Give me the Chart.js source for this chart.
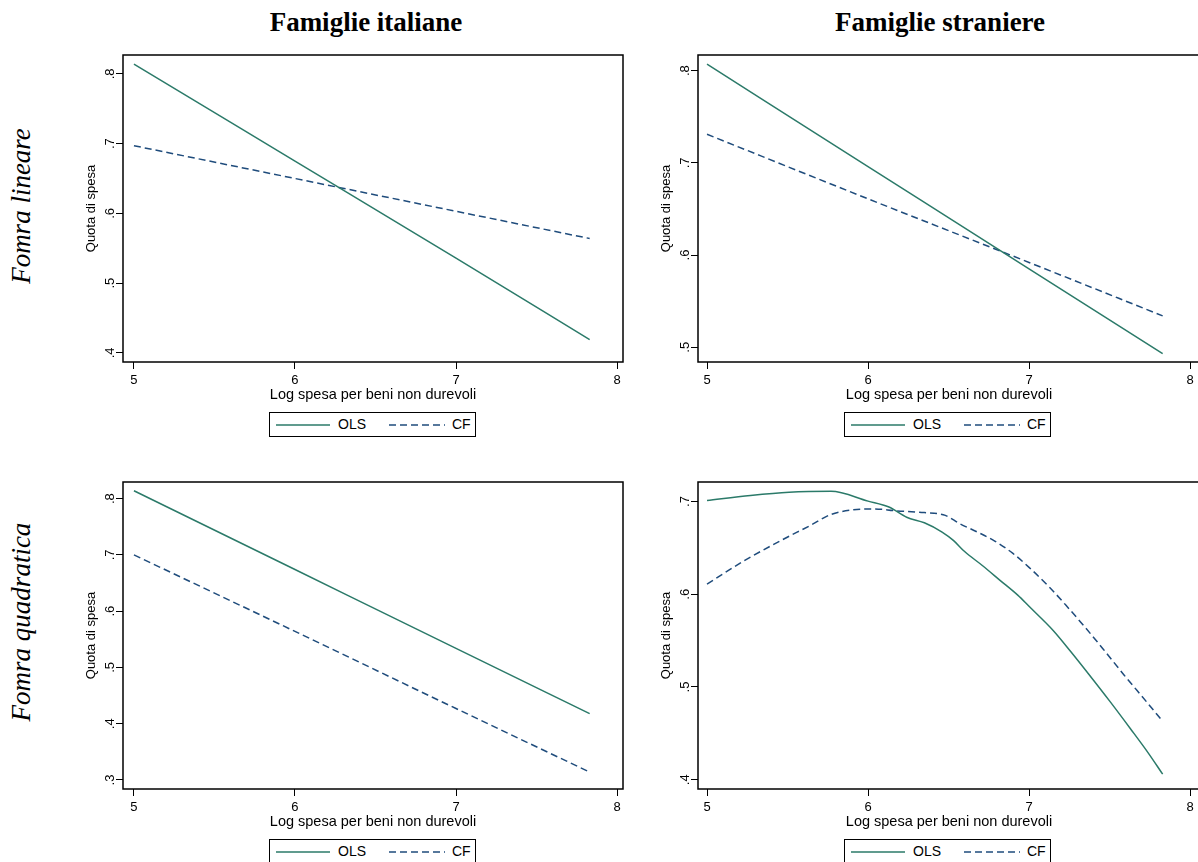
<!DOCTYPE html>
<html>
<head>
<meta charset="utf-8">
<script src="https://cdn.jsdelivr.net/npm/chart.js@4.4.1/dist/chart.umd.min.js"></script>
<style>
  html, body { margin: 0; padding: 0; background: #fff; }
  body { width: 1198px; height: 862px; position: relative; overflow: hidden; }
  canvas { position: absolute; }
  .coltitle {
    position: absolute; top: 7px; line-height: 27px; white-space: nowrap;
    font: bold 27px "Liberation Serif", "Times New Roman", serif;
    transform: translateX(-50%);
  }
  .rowtitle {
    position: absolute; line-height: 27px; white-space: nowrap;
    font: italic 27px "Liberation Serif", "Times New Roman", serif;
    transform: translate(-50%, -50%) rotate(-90deg);
  }
  .legend {
    position: absolute; width: 205px; height: 23px; border: 1px solid #000;
    font: 14px "Liberation Sans", Arial, sans-serif; background: #fff;
  }
  .legend svg, .legend span { position: absolute; }
  .legend span { top: 3px; line-height: 17px; }
</style>
</head>
<body>
<div class="coltitle" style="left:366px">Famiglie italiane</div>
<div class="coltitle" style="left:940px">Famiglie straniere</div>
<div class="rowtitle" style="left:21px; top:206px">Fomra lineare</div>
<div class="rowtitle" style="left:21px; top:622px">Fomra quadratica</div>

<canvas id="linIt" width="563" height="365" style="left:70px; top:45px"></canvas>
<canvas id="linSt" width="565" height="365" style="left:645px; top:45px"></canvas>
<canvas id="quadIt" width="563" height="365" style="left:70px; top:472px"></canvas>
<canvas id="quadSt" width="565" height="365" style="left:645px; top:472px"></canvas>

<script>
const seriesNames = ["OLS", "CF"];
const xTitle = "Log spesa per beni non durevoli";
const yTitle = "Quota di spesa";

const xTicks = [5, 6, 7, 8];
const yTicksLinIt = [0.4, 0.5, 0.6, 0.7, 0.8];
const yTicksLinSt = [0.5, 0.6, 0.7, 0.8];
const yTicksQuadIt = [0.3, 0.4, 0.5, 0.6, 0.7, 0.8];
const yTicksQuadSt = [0.4, 0.5, 0.6, 0.7];

// linear fits: read at 5, 6, 7 and at the last point
const xLin = [5, 6, 7, 7.83];
const olsLinIt = [0.814, 0.675, 0.536, 0.419];
const cfLinIt = [0.697, 0.65, 0.603, 0.564];
const olsLinSt = [0.807, 0.696, 0.585, 0.493];
const cfLinSt = [0.731, 0.661, 0.592, 0.534];
const olsQuadIt = [0.814, 0.674, 0.534, 0.418];
const cfQuadIt = [0.7, 0.564, 0.427, 0.314];

// quadratic, foreign households
const xOlsQuadSt = [5.0, 5.27, 5.51, 5.77, 6.0, 6.13, 6.24, 6.35, 6.46, 6.53, 6.6, 6.71, 6.82, 6.93, 7.0, 7.15, 7.26, 7.37, 7.5, 7.63, 7.74, 7.83];
const olsQuadSt = [0.701, 0.7065, 0.71, 0.711, 0.7004, 0.694, 0.683, 0.677, 0.667, 0.658, 0.646, 0.631, 0.615, 0.599, 0.587, 0.561, 0.538, 0.514, 0.485, 0.455, 0.429, 0.406];
const xCfQuadSt = [5.0, 5.24, 5.46, 5.64, 5.77, 5.91, 6.04, 6.17, 6.35, 6.48, 6.57, 6.68, 6.79, 6.9, 7.0, 7.13, 7.24, 7.35, 7.46, 7.59, 7.73, 7.83];
const cfQuadSt = [0.611, 0.637, 0.658, 0.674, 0.686, 0.691, 0.692, 0.69, 0.688, 0.685, 0.676, 0.667, 0.657, 0.644, 0.629, 0.607, 0.586, 0.564, 0.541, 0.513, 0.484, 0.463];

const olsColor = "#2b7a69";
const cfColor = "#1f4c7c";

Chart.defaults.color = "#000";
Chart.defaults.font.family = '"Liberation Sans", Arial, sans-serif';

const frame = {
  id: "frame",
  afterDraw(chart) {
    const { ctx, chartArea: a } = chart;
    ctx.save();
    ctx.strokeStyle = "#000";
    ctx.lineWidth = 1.5;
    ctx.strokeRect(a.left, a.top, a.right - a.left, a.bottom - a.top);
    ctx.restore();
  },
};

function toPoints(xs, ys) {
  return xs.map((x, i) => ({ x: x, y: ys[i] }));
}

function makePanel(id, xsOls, ols, xsCf, cf, xRange, yRange, yTicks) {
  return new Chart(document.getElementById(id), {
    type: "line",
    data: {
      datasets: [
        {
          label: seriesNames[0],
          data: toPoints(xsOls, ols),
          borderColor: olsColor,
          borderWidth: 1.5,
          pointRadius: 0,
          cubicInterpolationMode: "monotone",
        },
        {
          label: seriesNames[1],
          data: toPoints(xsCf, cf),
          borderColor: cfColor,
          borderWidth: 1.5,
          borderDash: [7, 4],
          pointRadius: 0,
          cubicInterpolationMode: "monotone",
        },
      ],
    },
    options: {
      responsive: false,
      animation: false,
      devicePixelRatio: 1,
      layout: { padding: { top: 10, right: 10, bottom: 0, left: 0 } },
      plugins: {
        legend: { display: false },
        tooltip: { enabled: false },
      },
      scales: {
        x: {
          type: "linear",
          min: xRange[0],
          max: xRange[1],
          afterBuildTicks: (scale) => {
            scale.ticks = xTicks.map((v) => ({ value: v }));
          },
          afterFit: (scale) => {
            scale.height = 48;
          },
          ticks: {
            font: { size: 13 },
            padding: 4,
            maxRotation: 0,
            autoSkip: false,
          },
          grid: {
            drawOnChartArea: false,
            drawTicks: true,
            tickLength: 7,
            color: "#000",
          },
          border: { display: false },
          title: {
            display: true,
            text: xTitle,
            font: { size: 14.5 },
            padding: { top: 0, bottom: 6.3 },
          },
        },
        y: {
          type: "linear",
          min: yRange[0],
          max: yRange[1],
          afterBuildTicks: (scale) => {
            scale.ticks = yTicks.map((v) => ({ value: v }));
          },
          afterFit: (scale) => {
            scale.width = 53;
          },
          ticks: {
            font: { size: 13 },
            padding: 0,
            minRotation: 90,
            maxRotation: 90,
            crossAlign: "center",
            autoSkip: false,
            callback: (v) => v.toFixed(1).replace(/^0/, ""),
          },
          grid: {
            drawOnChartArea: false,
            drawTicks: true,
            tickLength: 7,
            color: "#000",
          },
          border: { display: false },
          title: {
            display: true,
            text: yTitle,
            font: { size: 13 },
            padding: { top: 13.2, bottom: 0 },
          },
        },
      },
    },
    plugins: [frame],
  });
}

makePanel("linIt", xLin, olsLinIt, xLin, cfLinIt, [4.932, 8.037], [0.387, 0.827], yTicksLinIt);
makePanel("linSt", xLin, olsLinSt, xLin, cfLinSt, [4.944, 8.062], [0.484, 0.817], yTicksLinSt);
makePanel("quadIt", xLin, olsQuadIt, xLin, cfQuadIt, [4.932, 8.037], [0.284, 0.8295], yTicksQuadIt);
makePanel("quadSt", xOlsQuadSt, olsQuadSt, xCfQuadSt, cfQuadSt, [4.944, 8.062], [0.39, 0.721], yTicksQuadSt);

// legends below each panel
function addLegend(left, top) {
  const box = document.createElement("div");
  box.className = "legend";
  box.style.left = left + "px";
  box.style.top = top + "px";
  box.innerHTML =
    '<svg width="54" height="4" style="left:6px; top:10px"><line x1="0" y1="2" x2="54" y2="2" stroke="' +
    olsColor + '" stroke-width="1.5"/></svg>' +
    '<span style="left:68px">' + seriesNames[0] + "</span>" +
    '<svg width="56" height="4" style="left:119px; top:10px"><line x1="0" y1="2" x2="56" y2="2" stroke="' +
    cfColor + '" stroke-width="1.5" stroke-dasharray="7 4"/></svg>' +
    '<span style="left:182px">' + seriesNames[1] + "</span>";
  document.body.appendChild(box);
}

addLegend(269, 412);
addLegend(844, 412);
addLegend(269, 839);
addLegend(844, 839);
</script>
</body>
</html>
